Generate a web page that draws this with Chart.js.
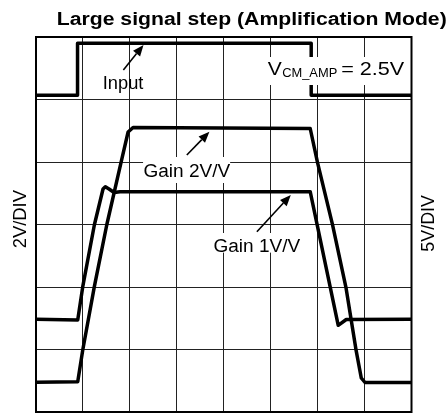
<!DOCTYPE html>
<html>
<head>
<meta charset="utf-8">
<script src="https://cdn.jsdelivr.net/npm/chart.js@4.4.1/dist/chart.umd.min.js"></script>
<style>
  html, body { margin: 0; padding: 0; background: #fff; }
  canvas { display: block; }
</style>
</head>
<body>
<canvas id="scope" width="448" height="419"></canvas>
<script>
// scope screen: 8 x 6 divisions, values read in divisions
const xDivs = 8;
const yDivs = 6;

const titleText = "Large signal step (Amplification Mode)";
const leftLabel = "2V/DIV";
const rightLabel = "5V/DIV";

const inputX = [0, 0.885, 0.885, 5.863, 5.863, 8];
const inputY = [5.07, 5.07, 5.90, 5.90, 5.07, 5.07];

const gain2X = [0, 0.889, 0.996, 1.243, 1.507, 1.812, 1.962, 2.068, 5.842, 5.997, 6.317, 6.603, 6.816, 6.93, 7.01, 8];
const gain2Y = [0.475, 0.485, 0.992, 2.005, 2.992, 3.995, 4.48, 4.552, 4.536, 3.995, 2.997, 1.995, 1.003, 0.544, 0.472, 0.472];

const gain1X = [0, 0.889, 0.996, 1.243, 1.428, 1.477, 1.556, 1.663, 1.791, 5.842, 6.439, 6.61, 8];
const gain1Y = [1.483, 1.472, 2.005, 2.992, 3.568, 3.605, 3.568, 3.512, 3.525, 3.525, 1.387, 1.48, 1.483];

// annotation text, in division units
const labels = [
  { text: "Input", x0: 1.422, x1: 2.288, y: 5.163, size: 18 },
  { text: "V", x0: 4.94, x1: 5.239, y: 5.392, size: 18 },
  { text: "CM_AMP", x0: 5.245, x1: 6.418, y: 5.36, size: 13 },
  { text: "= 2.5V", x0: 6.503, x1: 7.846, y: 5.392, size: 18 },
  { text: "Gain 2V/V", x0: 2.288, x1: 4.136, y: 3.765, size: 18 },
  { text: "Gain 1V/V", x0: 3.78, x1: 5.629, y: 2.565, size: 18 }
];
const whiteBoxes = [
  [4.861, 7.974, 5.68, 5.232],
  [2.281, 4.136, 4.08, 3.664],
  [3.753, 5.629, 2.864, 2.55]
];
const arrows = [
  [1.861, 5.472, 2.29, 5.872],
  [3.213, 4.112, 3.695, 4.485],
  [4.706, 2.885, 5.429, 3.472]
];

function pts(xs, ys) {
  return xs.map((x, i) => ({ x: x, y: ys[i] }));
}

function trace(label, xs, ys) {
  return {
    label: label,
    data: pts(xs, ys),
    borderColor: "#000",
    borderWidth: 3.5,
    borderJoinStyle: "round",
    borderCapStyle: "round",
    pointRadius: 0,
    tension: 0,
    fill: false
  };
}

const FONT = "'Liberation Sans', Arial, sans-serif";

function fitText(ctx, text, left, right, baseline, font) {
  ctx.save();
  ctx.font = font;
  const w = ctx.measureText(text).width;
  ctx.translate(left, baseline);
  ctx.scale((right - left) / w, 1);
  ctx.textBaseline = "alphabetic";
  ctx.textAlign = "left";
  ctx.fillStyle = "#000";
  ctx.fillText(text, 0, 0);
  ctx.restore();
}

function arrow(ctx, x1, y1, x2, y2) {
  const ang = Math.atan2(y2 - y1, x2 - x1);
  const head = 11, half = 4.5;
  const bx = x2 - head * Math.cos(ang), by = y2 - head * Math.sin(ang);
  ctx.save();
  ctx.strokeStyle = "#000";
  ctx.fillStyle = "#000";
  ctx.lineWidth = 1.6;
  ctx.beginPath();
  ctx.moveTo(x1, y1);
  ctx.lineTo(bx, by);
  ctx.stroke();
  ctx.beginPath();
  ctx.moveTo(x2, y2);
  ctx.lineTo(bx - half * Math.sin(ang), by + half * Math.cos(ang));
  ctx.lineTo(bx + half * Math.sin(ang), by - half * Math.cos(ang));
  ctx.closePath();
  ctx.fill();
  ctx.restore();
}

const overlay = {
  id: "overlay",
  afterDatasetsDraw(chart) {
    const { ctx, chartArea: a, scales } = chart;
    const sx = scales.x, sy = scales.y;

    ctx.save();
    ctx.fillStyle = "#fff";
    whiteBoxes.forEach(b => {
      const l = sx.getPixelForValue(b[0]), r = sx.getPixelForValue(b[1]);
      const t = sy.getPixelForValue(b[2]), btm = sy.getPixelForValue(b[3]);
      ctx.fillRect(l, t, r - l, btm - t);
    });
    ctx.restore();

    labels.forEach(lb => {
      fitText(ctx, lb.text, sx.getPixelForValue(lb.x0), sx.getPixelForValue(lb.x1),
        sy.getPixelForValue(lb.y), lb.size + "px " + FONT);
    });

    arrows.forEach(ar => {
      arrow(ctx, sx.getPixelForValue(ar[0]), sy.getPixelForValue(ar[1]),
        sx.getPixelForValue(ar[2]), sy.getPixelForValue(ar[3]));
    });

    // frame
    ctx.save();
    ctx.strokeStyle = "#000";
    ctx.lineWidth = 2;
    ctx.strokeRect(a.left, a.top, a.right - a.left, a.bottom - a.top);
    ctx.restore();
  },
  afterDraw(chart) {
    const ctx = chart.ctx;
    fitText(ctx, titleText, 56.7, 446.7, 24.5, "bold 18px " + FONT);

    ctx.save();
    ctx.translate(26.3, 248.3);
    ctx.rotate(-Math.PI / 2);
    fitText(ctx, leftLabel, 0, 58.3, 0, "18px " + FONT);
    ctx.restore();

    ctx.save();
    ctx.translate(434, 251.7);
    ctx.rotate(-Math.PI / 2);
    fitText(ctx, rightLabel, 0, 56.7, 0, "18px " + FONT);
    ctx.restore();
  }
};

new Chart(document.getElementById("scope"), {
  type: "line",
  data: {
    datasets: [
      trace("Input", inputX, inputY),
      trace("Gain 2V/V", gain2X, gain2Y),
      trace("Gain 1V/V", gain1X, gain1Y)
    ]
  },
  options: {
    responsive: false,
    animation: false,
    devicePixelRatio: 1,
    layout: { padding: { left: 36, right: 36.5, top: 37, bottom: 7 } },
    plugins: {
      legend: { display: false },
      tooltip: { enabled: false },
      title: { display: false }
    },
    scales: {
      x: {
        type: "linear", min: 0, max: xDivs,
        ticks: { display: false, stepSize: 1 },
        grid: { color: "#222", lineWidth: 1, drawTicks: false },
        border: { display: false }
      },
      y: {
        type: "linear", min: 0, max: yDivs,
        ticks: { display: false, stepSize: 1 },
        grid: { color: "#222", lineWidth: 1, drawTicks: false },
        border: { display: false }
      }
    }
  },
  plugins: [overlay]
});
</script>
</body>
</html>
